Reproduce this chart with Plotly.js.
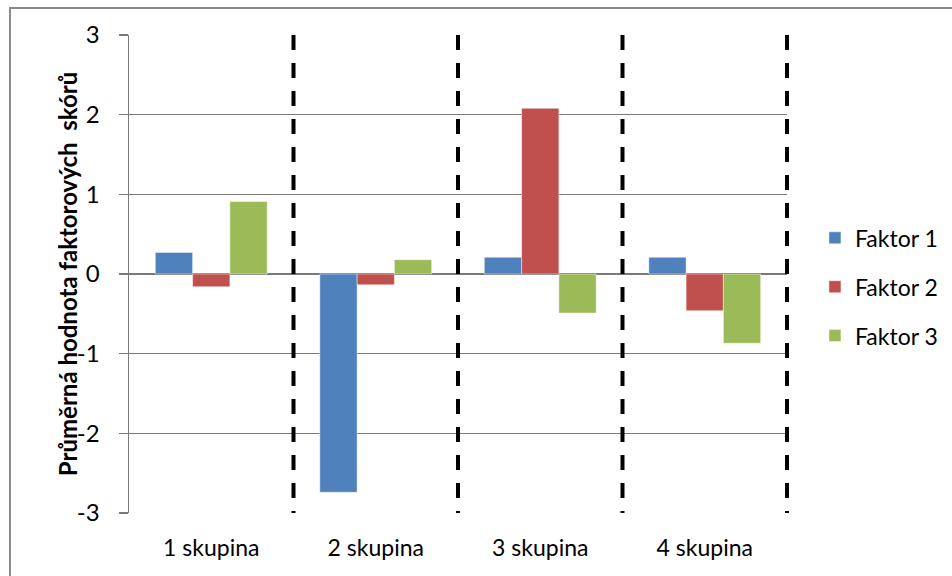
<!DOCTYPE html>
<html>
<head>
<meta charset="utf-8">
<script src="https://cdn.plot.ly/plotly-3.0.1.min.js"></script>
<style>
  html, body { margin: 0; padding: 0; background: #fff; }
  #chart { width: 952px; height: 576px; position: relative; }
  #frame { position: absolute; left: 9px; top: 7px; width: 1000px; height: 1000px;
           border: 2px solid #8a8a8a; pointer-events: none; box-sizing: border-box; }
  #wrap { position: relative; width: 952px; height: 576px; overflow: hidden; }
</style>
</head>
<body>
<div id="wrap">
  <div id="chart"></div>
  <div id="frame"></div>
</div>
<script>
const categories = ['1 skupina', '2 skupina', '3 skupina', '4 skupina'];
const seriesNames = ['Faktor 1', 'Faktor 2', 'Faktor 3'];
const faktor1 = [0.27, -2.74, 0.21, 0.21];
const faktor2 = [-0.16, -0.135, 2.08, -0.46];
const faktor3 = [0.91, 0.18, -0.49, -0.87];
const yTicks = [-3, -2, -1, 0, 1, 2, 3];
const yTitle = 'Průměrná hodnota faktorových  skórů';

const colors = ['#4F81BD', '#C0504D', '#9BBB59'];
const seriesValues = [faktor1, faktor2, faktor3];
const font = 'Lato, "Open Sans", sans-serif';

const traces = seriesValues.map((vals, i) => ({
  type: 'bar',
  name: seriesNames[i],
  x: categories,
  y: vals,
  legendgroup: 'g' + i,
  marker: { color: colors[i], line: { color: 'rgba(255,255,255,0.45)', width: 1 } },
  hoverinfo: 'x+y+name'
}));

// dashed separators at the category boundaries (right edge of each group)
const shapes = categories.map((c, i) => ({
  type: 'line', xref: 'paper', yref: 'y',
  x0: (i + 1) / categories.length, x1: (i + 1) / categories.length,
  y0: 3, y1: -3,
  line: { color: '#000', width: 4, dash: '15px,13px' },
  layer: 'above'
}));

const layout = {
  width: 952, height: 576,
  margin: { l: 129, r: 165, t: 35, b: 63 },
  paper_bgcolor: '#fff', plot_bgcolor: '#fff',
  font: { family: font, size: 24, color: '#000' },
  barmode: 'group',
  bargap: 0.32,
  bargroupgap: 0,
  showlegend: true,
  legend: {
    xref: 'container', yref: 'container',
    x: 0.9905, xanchor: 'right', y: 0.502, yanchor: 'middle',
    font: { family: font, size: 23, color: '#000' },
    traceorder: 'grouped', tracegroupgap: 16,
    itemwidth: 30, bgcolor: 'rgba(0,0,0,0)'
  },
  xaxis: {
    type: 'category',
    range: [-0.5, 3.5],
    showgrid: false, showline: false, zeroline: false,
    ticks: '', ticklabelstandoff: 19,
    tickfont: { family: font, size: 23, color: '#000' },
    fixedrange: true
  },
  yaxis: {
    range: [-3, 3],
    tickvals: yTicks,
    ticktext: yTicks.map(String),
    showgrid: true, gridcolor: '#7a7a7a', gridwidth: 1.5,
    zeroline: true, zerolinecolor: '#7a7a7a', zerolinewidth: 1.5,
    showline: true, linecolor: '#7a7a7a', linewidth: 1.5,
    ticks: 'outside', ticklen: 9, tickcolor: '#7a7a7a', tickwidth: 1.5,
    ticklabelstandoff: 14,
    tickfont: { family: font, size: 24, color: '#000' },
    automargin: false,
    fixedrange: true
  },
  annotations: [{
    xref: 'paper', yref: 'paper', x: -0.094, y: 0.5,
    xanchor: 'center', yanchor: 'middle', showarrow: false,
    textangle: -90, text: yTitle,
    font: { family: font, size: 24, color: '#000', weight: 'bold' }
  }],
  shapes: shapes
};

Plotly.newPlot('chart', traces, layout, { displayModeBar: false, staticPlot: true });
</script>
</body>
</html>
